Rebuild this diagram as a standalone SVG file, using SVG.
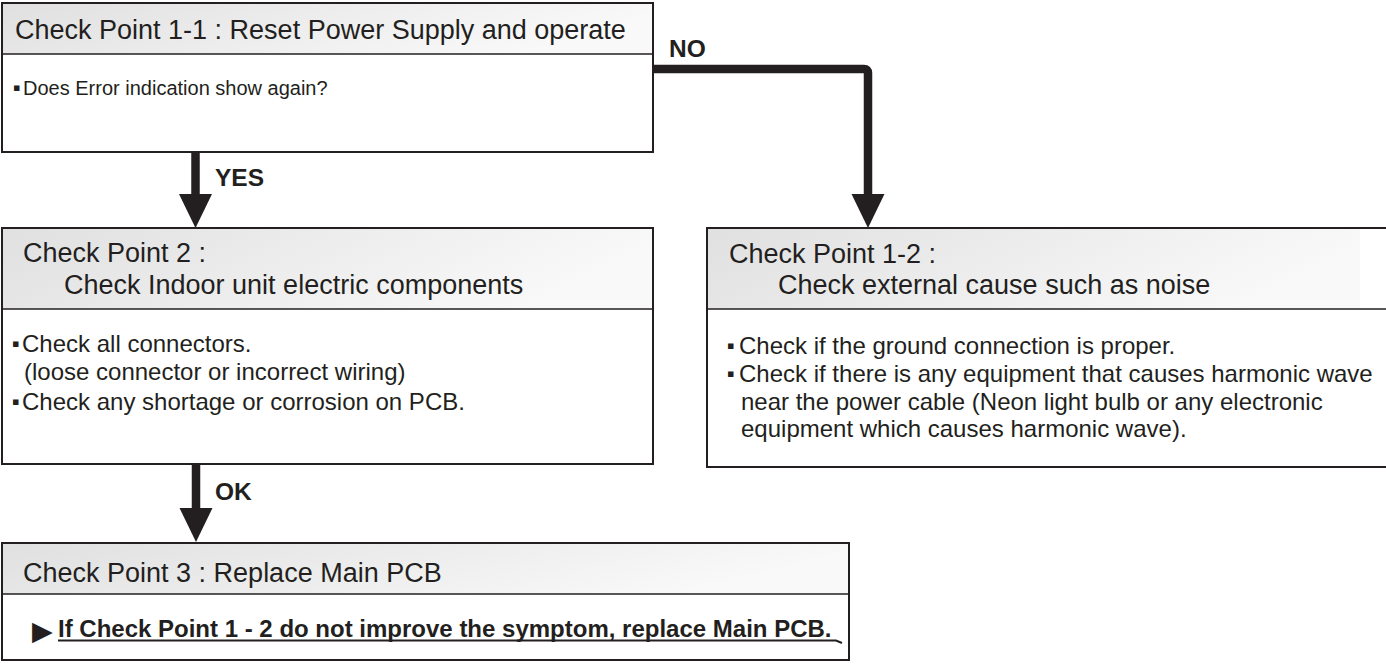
<svg xmlns="http://www.w3.org/2000/svg" width="1386" height="664" viewBox="0 0 1386 664">
<style>
  .box{fill:#ffffff;stroke:#231f20;stroke-width:2}
  .hdrline{stroke:#231f20;stroke-width:1.6}
  .h{font-family:"Liberation Sans",Arial,sans-serif;font-size:27px;fill:#231f20}
  .t{font-family:"Liberation Sans",Arial,sans-serif;font-size:24px;fill:#231f20}
  .ts{font-family:"Liberation Sans",Arial,sans-serif;font-size:20px;fill:#231f20}
  .b{font-family:"DejaVu Sans",sans-serif;font-size:11px;fill:#231f20}
  .lbl{font-family:"Liberation Sans",Arial,sans-serif;font-size:24.5px;font-weight:bold;fill:#231f20}
  .note{font-family:"Liberation Sans",Arial,sans-serif;font-size:24px;font-weight:bold;fill:#231f20}
  .tri{font-family:"DejaVu Sans",sans-serif;font-size:27px;fill:#231f20}
  .shaft{fill:none;stroke:#231f20;stroke-width:8.5;stroke-linejoin:round}
</style>
<defs>
  <linearGradient id="hdr" x1="0" y1="0" x2="1" y2="0.25">
    <stop offset="0" stop-color="#e0e0e0"/>
    <stop offset="1" stop-color="#f9f9f9"/>
  </linearGradient>
  <marker id="head" markerUnits="userSpaceOnUse" markerWidth="35" markerHeight="34" refX="1" refY="16.5" orient="auto">
    <path d="M0,0 L34,16.5 L0,33 z" fill="#231f20"/>
  </marker>
</defs>

<g id="connectors">
  <path class="shaft" d="M195.5,152 V195" marker-end="url(#head)"/>
  <path class="shaft" d="M196,464 V509" marker-end="url(#head)"/>
  <path class="shaft" d="M653,69 H864 Q868,69 868,73 V195" marker-end="url(#head)"/>
  <text class="lbl" x="215" y="186">YES</text>
  <text class="lbl" x="669" y="57">NO</text>
  <text class="lbl" x="215" y="500">OK</text>
</g>

<g id="cp11">
  <rect class="box" x="2" y="3" width="651" height="149"/>
  <rect x="3" y="4" width="649" height="50" fill="url(#hdr)"/>
  <line class="hdrline" x1="2" y1="54" x2="653" y2="54"/>
  <text class="h" x="15" y="39">Check Point 1-1 : Reset Power Supply and operate</text>
  <text class="ts" x="13" y="95"><tspan class="b" dy="-4">▪</tspan><tspan x="23" dy="4">Does Error indication show again?</tspan></text>
</g>

<g id="cp2">
  <rect class="box" x="2" y="228" width="651" height="236"/>
  <rect x="3" y="229" width="649" height="80" fill="url(#hdr)"/>
  <line class="hdrline" x1="2" y1="309" x2="653" y2="309"/>
  <text class="h" x="23" y="262">Check Point 2 :</text>
  <text class="h" x="64" y="294">Check Indoor unit electric components</text>
  <text class="t" x="12" y="352"><tspan class="b" dy="-5">▪</tspan><tspan x="22" dy="5">Check all connectors.</tspan></text>
  <text class="t" x="24" y="380">(loose connector or incorrect wiring)</text>
  <text class="t" x="12" y="410"><tspan class="b" dy="-5">▪</tspan><tspan x="22" dy="5">Check any shortage or corrosion on PCB.</tspan></text>
</g>

<g id="cp12">
  <rect class="box" x="707" y="228" width="700" height="239"/>
  <rect x="708" y="229" width="652" height="80" fill="url(#hdr)"/>
  <line class="hdrline" x1="707" y1="309" x2="1386" y2="309"/>
  <text class="h" x="729" y="263">Check Point 1-2 :</text>
  <text class="h" x="778" y="294">Check external cause such as noise</text>
  <text class="t" x="727" y="354"><tspan class="b" dy="-5">▪</tspan><tspan x="739" dy="5">Check if the ground connection is proper.</tspan></text>
  <text class="t" x="727" y="382"><tspan class="b" dy="-5">▪</tspan><tspan x="739" dy="5">Check if there is any equipment that causes harmonic wave</tspan></text>
  <text class="t" x="741" y="410">near the power cable (Neon light bulb or any electronic</text>
  <text class="t" x="741" y="437">equipment which causes harmonic wave).</text>
</g>

<g id="cp3">
  <rect class="box" x="2" y="543" width="847" height="117"/>
  <rect x="3" y="544" width="845" height="50" fill="url(#hdr)"/>
  <line class="hdrline" x1="2" y1="594" x2="849" y2="594"/>
  <text class="h" x="23" y="582">Check Point 3 : Replace Main PCB</text>
  <text class="tri" x="32" y="640">▶</text>
  <text class="note" x="58" y="637">If Check Point 1 - 2 do not improve the symptom, replace Main PCB.</text>
  <path d="M58,640.5 H836 L842,643" fill="none" stroke="#231f20" stroke-width="2"/>
</g>
</svg>
